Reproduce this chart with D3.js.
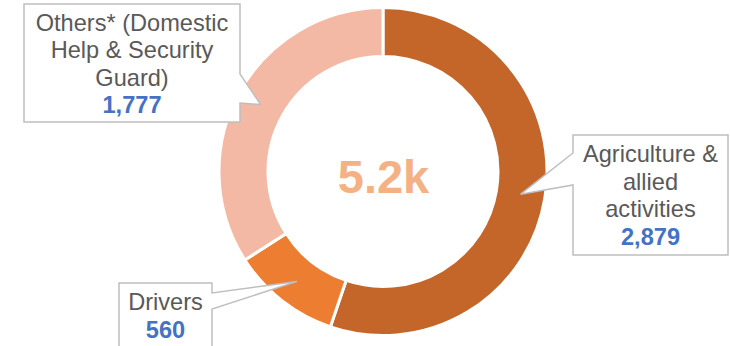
<!DOCTYPE html>
<html>
<head>
<meta charset="utf-8">
<script src="https://cdn.jsdelivr.net/npm/d3@7/dist/d3.min.js"></script>
<style>
  html, body { margin: 0; padding: 0; background: #fff; }
  svg { display: block; font-family: "Liberation Sans", Arial, sans-serif; }
</style>
</head>
<body>
<svg id="chart" width="730" height="346"></svg>
<script>
// Workforce by occupation
const categories = ["Agriculture & allied activities", "Drivers", "Others* (Domestic Help & Security Guard)"];
const values = [2879, 560, 1777];
const labelLines = [
  ["Agriculture &", "allied", "activities"],
  ["Drivers"],
  ["Others* (Domestic", "Help & Security", "Guard)"]
];
const colors = ["#C4662A", "#ED7D31", "#F4B9A5"];
const totalLabel = "5.2k";

// Callout boxes: rectangle, the side the pointer leaves from and the pointer base along that side
const callouts = [
  { x0: 573, y0: 135, x1: 728, y1: 255, side: "left",  b0: 153, b1: 185, cx: 650.5, firstBaseline: 162 },
  { x0: 119, y0: 283, x1: 212, y1: 352, side: "right", b0: 293, b1: 309, cx: 165.5, firstBaseline: 310 },
  { x0: 24,  y0: 4,   x1: 240, y1: 122, side: "right", b0: 74,  b1: 103, cx: 132, firstBaseline: 30.5 }
];

const svg = d3.select("#chart");
const cx = 383, cy = 171.5;
const rOuter = 164, rInner = 115;

const pie = d3.pie().sort(null).value(d => d)(values);
const arc = d3.arc().innerRadius(rInner).outerRadius(rOuter);
const mid = d3.arc().innerRadius((rInner + rOuter) / 2).outerRadius((rInner + rOuter) / 2);

const g = svg.append("g").attr("transform", `translate(${cx},${cy})`);
g.selectAll("path.slice")
  .data(pie)
  .join("path")
  .attr("class", "slice")
  .attr("d", arc)
  .attr("fill", (d, i) => colors[i])
  .attr("stroke", "#fff")
  .attr("stroke-width", 3);

g.append("text")
  .attr("x", 0.5)
  .attr("y", 21.5)
  .attr("text-anchor", "middle")
  .attr("font-size", 47)
  .attr("font-weight", "bold")
  .attr("fill", "#F4B183")
  .text(totalLabel);

// Outline of a box with a pointer wedge reaching to the slice centre
function calloutPath(c, tip) {
  const p = d3.path();
  if (c.side === "left") {
    p.moveTo(c.x0, c.y0);
    p.lineTo(c.x1, c.y0);
    p.lineTo(c.x1, c.y1);
    p.lineTo(c.x0, c.y1);
    p.lineTo(c.x0, c.b1);
    p.lineTo(tip[0], tip[1]);
    p.lineTo(c.x0, c.b0);
    p.closePath();
  } else {
    p.moveTo(c.x0, c.y0);
    p.lineTo(c.x1, c.y0);
    p.lineTo(c.x1, c.b0);
    p.lineTo(tip[0], tip[1]);
    p.lineTo(c.x1, c.b1);
    p.lineTo(c.x1, c.y1);
    p.lineTo(c.x0, c.y1);
    p.closePath();
  }
  return p.toString();
}

const fmt = d3.format(",");
const lineH = 27.5;

pie.forEach((d, i) => {
  const c = callouts[i];
  const m = mid.centroid(d);
  const tip = [cx + m[0], cy + m[1]];
  svg.append("path")
    .attr("d", calloutPath(c, tip))
    .attr("fill", "#fff")
    .attr("stroke", "#BFBFBF")
    .attr("stroke-width", 1.5)
    .attr("stroke-linejoin", "miter");

  const t = svg.append("text")
    .attr("text-anchor", "middle")
    .attr("font-size", 23.6);
  labelLines[i].forEach((line, k) => {
    t.append("tspan")
      .attr("x", c.cx)
      .attr("y", c.firstBaseline + k * lineH)
      .attr("fill", "#595959")
      .text(line);
  });
  t.append("tspan")
    .attr("x", c.cx)
    .attr("y", c.firstBaseline + labelLines[i].length * lineH)
    .attr("fill", "#4472C4")
    .attr("font-weight", "bold")
    .text(fmt(values[i]));
});
</script>
</body>
</html>
